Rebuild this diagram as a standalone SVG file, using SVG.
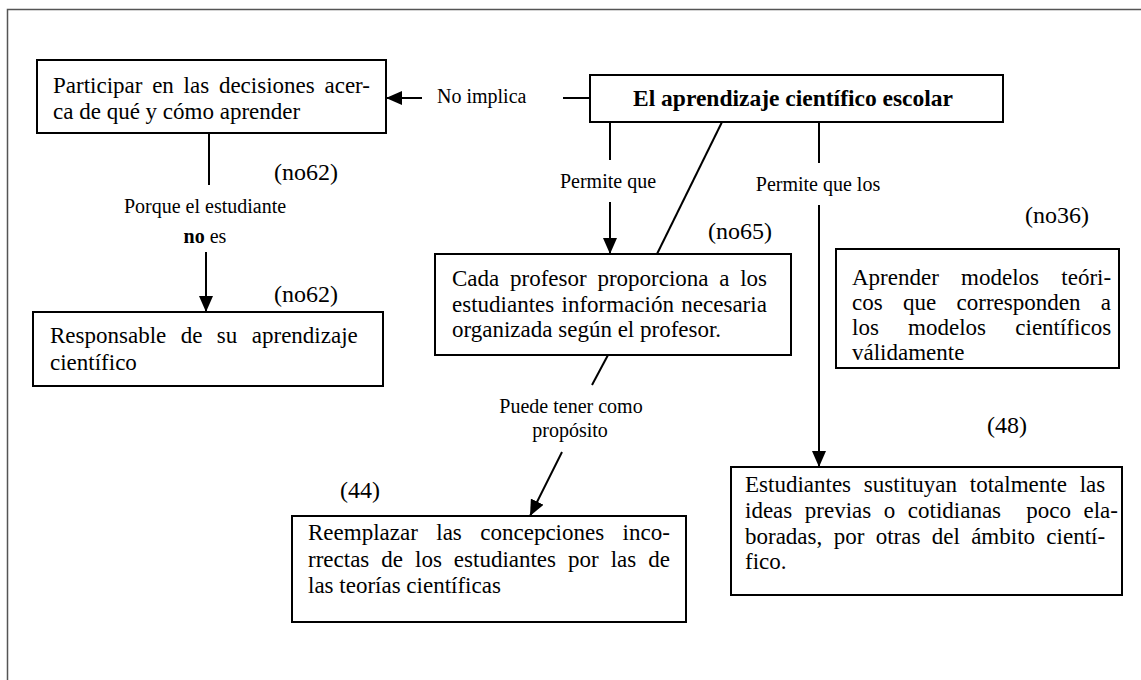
<svg xmlns="http://www.w3.org/2000/svg" width="1141" height="680" viewBox="0 0 1141 680">
<style>
.frame{fill:none;stroke:#555;stroke-width:1.5}
.box{fill:#fff;stroke:#000;stroke-width:2}
.t{font-family:"Liberation Serif","Times New Roman",serif;font-size:23px;fill:#000}
.tb{font-family:"Liberation Serif","Times New Roman",serif;font-size:23.5px;font-weight:bold;fill:#000}
.lb{font-family:"Liberation Serif","Times New Roman",serif;font-size:20px;fill:#000}
.num{font-family:"Liberation Serif","Times New Roman",serif;font-size:24px;fill:#000}
.c{stroke:#000;stroke-width:2;fill:none}
.a{marker-end:url(#arr)}
</style>
<defs>
<marker id="arr" markerUnits="userSpaceOnUse" markerWidth="16" markerHeight="14" refX="16" refY="7" orient="auto">
<path d="M0,0 L16,7 L0,14 z" fill="#000"/>
</marker>
</defs>
<rect width="1141" height="680" fill="#fff"/>
<path class="frame" d="M7.5,680 V9.5 H1141"/>

<g id="connectors">
<line class="c" x1="722" y1="122" x2="657" y2="254"/>
<line class="c" x1="563" y1="98" x2="590" y2="98"/>
<line class="c a" x1="422" y1="98" x2="386" y2="98"/>
<line class="c" x1="209" y1="133" x2="209" y2="185"/>
<line class="c a" x1="206" y1="252" x2="206" y2="312"/>
<line class="c" x1="610" y1="122" x2="610" y2="160"/>
<line class="c a" x1="610" y1="202" x2="610" y2="254"/>
<line class="c" x1="608" y1="355" x2="592" y2="385"/>
<line class="c a" x1="562" y1="452" x2="530" y2="516"/>
<line class="c" x1="819" y1="122" x2="819" y2="163"/>
<line class="c a" x1="819" y1="205" x2="819" y2="467"/>
<text class="lb" x="437" y="103">No implica</text>
<text class="lb" x="205" y="213" text-anchor="middle">Porque el estudiante</text>
<text class="lb" x="205" y="243" text-anchor="middle"><tspan font-weight="bold">no</tspan> es</text>
<text class="lb" x="608" y="188" text-anchor="middle">Permite que</text>
<text class="lb" x="818" y="191" text-anchor="middle">Permite que los</text>
<text class="lb" x="571" y="413" text-anchor="middle">Puede tener como</text>
<text class="lb" x="570" y="437" text-anchor="middle">propósito</text>
</g>

<g id="n-participar">
<rect class="box" x="37" y="60" width="349" height="73"/>
<text class="t" x="53" y="93" word-spacing="4">Participar en las decisiones acer-</text>
<text class="t" x="53" y="119">ca de qué y cómo aprender</text>
</g>

<g id="n-aprendizaje">
<rect class="box" x="590" y="75" width="413" height="47"/>
<text class="tb" x="633" y="106">El aprendizaje científico escolar</text>
</g>

<g id="n-responsable">
<text class="num" x="274" y="180">(no62)</text>
<text class="num" x="274" y="302">(no62)</text>
<rect class="box" x="33" y="312" width="350" height="74"/>
<text class="t" x="50" y="343" word-spacing="8.7">Responsable de su aprendizaje</text>
<text class="t" x="50" y="370">científico</text>
</g>

<g id="n-profesor">
<text class="num" x="708" y="239">(no65)</text>
<rect class="box" x="435" y="254" width="356" height="101"/>
<text class="t" x="452" y="286" word-spacing="5">Cada profesor proporciona a los</text>
<text class="t" x="452" y="312" word-spacing="1.6">estudiantes información necesaria</text>
<text class="t" x="452" y="337">organizada según el profesor.</text>
</g>

<g id="n-modelos">
<text class="num" x="1025" y="223">(no36)</text>
<rect class="box" x="836" y="249" width="283" height="119"/>
<text class="t" x="852" y="285" word-spacing="16.5">Aprender modelos teóri-</text>
<text class="t" x="852" y="310" word-spacing="14.6">cos que corresponden a</text>
<text class="t" x="852" y="335" word-spacing="23.5">los modelos científicos</text>
<text class="t" x="852" y="360">válidamente</text>
</g>

<g id="n-reemplazar">
<text class="num" x="340" y="498">(44)</text>
<rect class="box" x="292" y="516" width="394" height="106"/>
<text class="t" x="308" y="540" word-spacing="12.7">Reemplazar las concepciones inco-</text>
<text class="t" x="308" y="567" word-spacing="6.25">rrectas de los estudiantes por las de</text>
<text class="t" x="308" y="593">las teorías científicas</text>
</g>

<g id="n-sustituyan">
<text class="num" x="987" y="433">(48)</text>
<rect class="box" x="731" y="467" width="391" height="128"/>
<text class="t" x="745" y="492" word-spacing="7">Estudiantes sustituyan totalmente las</text>
<text class="t" x="745" y="518" word-spacing="6.8">ideas previas o cotidianas&#160; poco ela-</text>
<text class="t" x="745" y="544" word-spacing="5.6">boradas, por otras del ámbito cientí-</text>
<text class="t" x="745" y="569">fico.</text>
</g>
</svg>
